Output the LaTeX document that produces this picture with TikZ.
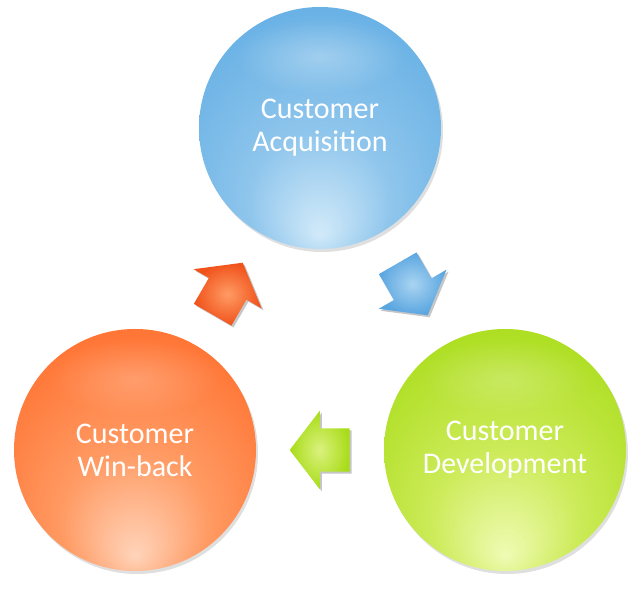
\documentclass[tikz,border=0pt]{standalone}
\usepackage{fontspec}
\setmainfont{Carlito}
\usetikzlibrary{shapes.arrows,shadows,fadings,calc}

\definecolor{acqhi}{HTML}{D2EAF9}
\definecolor{acqmid}{HTML}{8EC5EC}
\definecolor{acqbase}{HTML}{62AEE4}
\definecolor{acqedge}{HTML}{3A84D0}
\definecolor{winhi}{HTML}{FFD4BA}
\definecolor{winmid}{HTML}{FF9B64}
\definecolor{winbase}{HTML}{FF6E2C}
\definecolor{winedge}{HTML}{F0521A}
\definecolor{devhi}{HTML}{EFFBB4}
\definecolor{devmid}{HTML}{CDEB5A}
\definecolor{devbase}{HTML}{A8DC18}
\definecolor{devedge}{HTML}{8FCA0E}

% glass shadings, light spot low in the ball
\pgfdeclareradialshading{acqglass}{\pgfpoint{0bp}{-22bp}}{color(0bp)=(acqhi); color(15bp)=(acqmid); color(36bp)=(acqbase); color(50bp)=(acqedge)}
\pgfdeclareradialshading{winglass}{\pgfpoint{0bp}{-22bp}}{color(0bp)=(winhi); color(15bp)=(winmid); color(36bp)=(winbase); color(50bp)=(winedge)}
\pgfdeclareradialshading{devglass}{\pgfpoint{0bp}{-22bp}}{color(0bp)=(devhi); color(15bp)=(devmid); color(36bp)=(devbase); color(50bp)=(devedge)}

\tikzfading[name=glow fade, inner color=transparent!0, outer color=transparent!100]

\begin{document}
\begin{tikzpicture}[x=1pt, y=1pt,
  stage/.style={circle, shade, minimum size=242pt, inner sep=0pt, text=white, align=center,
    font=\fontsize{30}{33}\selectfont,
    drop shadow={opacity=0.25, shadow xshift=2pt, shadow yshift=-3pt}},
  turn/.style={single arrow, minimum height=60pt, minimum width=78pt,
    inner xsep=0pt, inner ysep=21.5pt,
    single arrow head extend=17.5pt, single arrow tip angle=105,
    drop shadow={opacity=0.45, shadow xshift=2pt, shadow yshift=-2pt}},
  gloss/.style={white, path fading=glow fade}]

  \useasboundingbox (0,0) rectangle (640,589);

  % the three stages
  \node[stage, shading=acqglass] (acq) at (320,461) {Customer\\Acquisition};
  \node[stage, shading=winglass] (win) at (135,139) {Customer\\Win-back};
  \node[stage, shading=devglass] (dev) at (505,139) {Customer\\Development};

  % top gloss on each ball
  \fill[gloss, opacity=0.3] ($(acq.center)+(0,72)$) ellipse (85 and 38);
  \fill[gloss, opacity=0.2] ($(win.center)+(0,72)$) ellipse (85 and 38);
  \fill[gloss, opacity=0.2] ($(dev.center)+(0,72)$) ellipse (85 and 38);

  % arrows between the stages
  \node[turn, rotate=60, xshift=-8pt, inner color=winmid, outer color=winedge]
    (winacq) at ($(win)!0.5!(acq)$) {};
  \node[turn, rotate=-60, xshift=-8pt, inner color=acqhi!40!acqmid, outer color=acqbase!80!acqedge]
    (acqdev) at ($(acq)!0.5!(dev)$) {};
  \node[turn, rotate=180, xshift=-8pt, inner color=devhi!40!devmid, outer color=devbase]
    (devwin) at ($(dev)!0.5!(win)$) {};
\end{tikzpicture}
\end{document}
